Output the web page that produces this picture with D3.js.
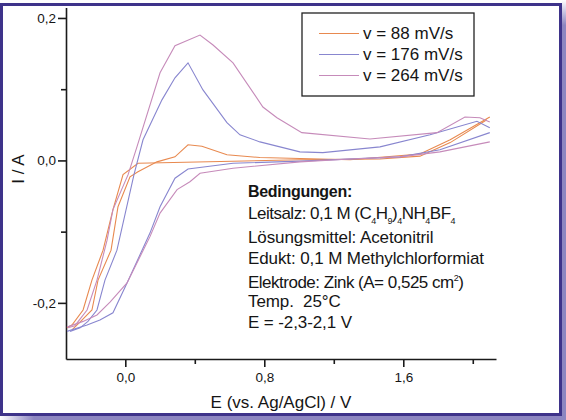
<!DOCTYPE html>
<html>

<head>
  <meta charset="utf8">
  <script src="https://d3js.org/d3.v7.min.js"></script>
  <style>
    body { margin: 0; background: #fff; }
    text {
      font-family: "Liberation Sans", Arial, sans-serif;
      fill: #151515;
    }
    .tick-label { font-size: 13.5px; }
    .axis-title { font-size: 17px; }
    .legend-text { font-size: 17px; }
    .note { font-size: 17px; letter-spacing: -0.1px; white-space: pre; }
    .tight { letter-spacing: -0.5px; }
    .note-head { font-size: 16px; letter-spacing: -0.3px; font-weight: bold; }
    .sub { font-size: 9px; }
  </style>
</head>

<body>
  <svg id="chart" width="566" height="420"></svg>
  <script>
    // scan rates shown in the legend
    var seriesNames = ['v = 88 mV/s', 'v = 176 mV/s', 'v = 264 mV/s'];
    var seriesColors = ['#e8894f', '#8886cf', '#c68bba'];

    // cyclic voltammograms, [E / V, I / A]
    var cv88Up = [[-0.307, -0.238], [-0.261, -0.227], [-0.192, -0.210], [-0.157, -0.168], [-0.082, -0.126],
      [-0.042, -0.065], [0.027, -0.023], [0.073, -0.016], [0.182, -0.002], [0.286, 0.005], [0.361, 0.022],
      [0.441, 0.020], [0.585, 0.008], [0.775, 0.004], [1.294, 0.001], [1.696, 0.009], [1.87, 0.029], [2.098, 0.061]];
    var cv88Down = [[2.081, 0.057], [1.87, 0.025], [1.696, 0.006], [1.466, 0.002], [1.005, 0.001], [0.073, -0.004],
      [-0.013, -0.020], [-0.071, -0.069], [-0.128, -0.126], [-0.192, -0.168], [-0.243, -0.210], [-0.307, -0.231],
      [-0.336, -0.235]];

    var cv176Up = [[-0.318, -0.240], [-0.26, -0.235], [-0.215, -0.226], [-0.163, -0.210], [-0.117, -0.168],
      [-0.048, -0.126], [0.050, -0.020], [0.102, 0.029], [0.211, 0.085], [0.286, 0.116], [0.361, 0.137],
      [0.447, 0.099], [0.585, 0.053], [0.660, 0.036], [0.775, 0.026], [1.005, 0.012], [1.137, 0.011],
      [1.466, 0.019], [1.754, 0.036], [2.024, 0.055], [2.098, 0.046]];
    var cv176Down = [[2.098, 0.039], [1.811, 0.015], [1.581, 0.005], [1.005, -0.001], [0.620, -0.004],
      [0.361, -0.012], [0.286, -0.025], [0.200, -0.065], [0.142, -0.102], [0.010, -0.172], [-0.071, -0.214],
      [-0.146, -0.224], [-0.220, -0.231], [-0.336, -0.240]];

    var cv264Up = [[-0.330, -0.235], [-0.290, -0.232], [-0.220, -0.210], [-0.163, -0.168], [-0.105, -0.112],
      [-0.071, -0.069], [0.016, -0.020], [0.067, 0.019], [0.200, 0.123], [0.286, 0.161], [0.430, 0.176],
      [0.505, 0.162], [0.620, 0.137], [0.792, 0.075], [0.873, 0.060], [1.016, 0.039], [1.408, 0.030],
      [1.794, 0.039], [1.955, 0.061], [2.041, 0.060], [2.098, 0.054]];
    var cv264Down = [[2.098, 0.026], [1.811, 0.012], [1.581, 0.005], [1.294, 0.002], [1.005, -0.002],
      [0.620, -0.011], [0.430, -0.018], [0.372, -0.030], [0.298, -0.041], [0.200, -0.074], [0.142, -0.107],
      [0.010, -0.172], [-0.088, -0.199], [-0.163, -0.217], [-0.243, -0.226], [-0.336, -0.234]];

    var xMajor = [0.0, 0.8, 1.6];
    var xMinor = [0.4, 1.2, 2.0];
    var yMajor = [-0.2, 0.0, 0.2];
    var yMinor = [-0.1, 0.1];

    var chart = d3.select('#chart');

    // frame with a soft shadow
    var defs = chart.append('defs');
    var gh = defs.append('linearGradient').attr('id', 'shadowH');
    gh.append('stop').attr('offset', '0').attr('stop-color', '#8d86c1').attr('stop-opacity', 0);
    gh.append('stop').attr('offset', '0.06').attr('stop-color', '#8d86c1').attr('stop-opacity', 1);
    var gv = defs.append('linearGradient').attr('id', 'shadowV').attr('x2', 0).attr('y2', 1);
    gv.append('stop').attr('offset', '0').attr('stop-color', '#8d86c1').attr('stop-opacity', 0);
    gv.append('stop').attr('offset', '0.06').attr('stop-color', '#8d86c1').attr('stop-opacity', 1);

    chart.append('rect').attr('x', 0).attr('y', 416).attr('width', 566).attr('height', 4).attr('fill', 'url(#shadowH)');
    chart.append('rect').attr('x', 562).attr('y', 0).attr('width', 4).attr('height', 420).attr('fill', 'url(#shadowV)');
    chart.append('rect')
      .attr('x', 1.5).attr('y', 4.5).attr('width', 559).attr('height', 410)
      .attr('fill', '#fff').attr('stroke', '#3e338a').attr('stroke-width', 3);

    var x = d3.scaleLinear().domain([-0.3413, 2.1337]).range([66, 496]);
    var y = d3.scaleLinear().domain([-0.2788, 0.2147]).range([359, 7.5]);

    var fmt = (d) => d3.format('.1f')(d).replace('.', ',').replace('−', '-');

    // axes (left and bottom only)
    var xAxis = chart.append('g').attr('transform', 'translate(0,359)')
      .call(d3.axisBottom(x).tickValues(xMajor).tickSize(8).tickSizeOuter(0).tickFormat(fmt));
    chart.append('g').attr('transform', 'translate(0,359)')
      .call(d3.axisBottom(x).tickValues(xMinor).tickSize(5).tickSizeOuter(0).tickFormat(''))
      .call((g) => g.select('.domain').remove())
      .call((g) => g.selectAll('.tick text').remove());
    var yAxis = chart.append('g').attr('transform', 'translate(66,0)')
      .call(d3.axisLeft(y).tickValues(yMajor).tickSize(8).tickSizeOuter(0).tickFormat(fmt));
    chart.append('g').attr('transform', 'translate(66,0)')
      .call(d3.axisLeft(y).tickValues(yMinor).tickSize(5).tickSizeOuter(0).tickFormat(''))
      .call((g) => g.select('.domain').remove())
      .call((g) => g.selectAll('.tick text').remove());

    chart.selectAll('.domain').attr('stroke', '#1a1a1a').attr('stroke-width', 1.6);
    chart.selectAll('.tick line').attr('stroke', '#1a1a1a').attr('stroke-width', 1.6);
    chart.selectAll('.tick text').attr('class', 'tick-label').attr('font-family', null).attr('font-size', null);
    xAxis.selectAll('.tick text').attr('y', 13);
    yAxis.selectAll('.tick text').attr('x', -10);

    chart.append('text').attr('class', 'axis-title')
      .attr('x', 281).attr('y', 408).attr('text-anchor', 'middle')
      .text('E (vs. Ag/AgCl) / V');
    chart.append('text').attr('class', 'axis-title')
      .attr('transform', 'translate(24,169) rotate(-90)').attr('text-anchor', 'middle')
      .text('I / A');

    // curves
    var line = d3.line().x((d) => x(d[0])).y((d) => y(d[1]));
    var curves = [
      { s: 0, pts: cv88Up }, { s: 0, pts: cv88Down },
      { s: 1, pts: cv176Up }, { s: 1, pts: cv176Down },
      { s: 2, pts: cv264Up }, { s: 2, pts: cv264Down },
    ];
    chart.append('g').selectAll('path')
      .data(curves)
      .enter()
      .append('path')
      .attr('d', (d) => line(d.pts))
      .attr('fill', 'none')
      .attr('stroke', (d) => seriesColors[d.s])
      .attr('stroke-width', 1.1);

    // legend
    var legend = chart.append('g');
    legend.append('rect')
      .attr('x', 302).attr('y', 13).attr('width', 172).attr('height', 83)
      .attr('fill', '#fff').attr('stroke', '#222').attr('stroke-width', 1.3);
    var item = legend.selectAll('.item')
      .data(seriesNames)
      .enter()
      .append('g')
      .attr('class', 'item')
      .attr('transform', (d, i) => 'translate(0,' + (33 + i * 21) + ')');
    item.append('line')
      .attr('x1', 319).attr('x2', 359).attr('y1', 0.5).attr('y2', 0.5)
      .attr('stroke', (d, i) => seriesColors[i]).attr('stroke-width', 1);
    item.append('text').attr('class', 'legend-text')
      .attr('x', 363).attr('y', 6)
      .text((d) => d);

    // conditions block
    var notes = chart.append('g');
    var nx = 248;
    notes.append('text').attr('class', 'note-head').attr('x', nx).attr('y', 197).text('Bedingungen:');

    // Leitsalz line with subscripts: [text, isSubscript]
    var salt = notes.append('text').attr('class', 'note tight').attr('x', nx).attr('y', 219);
    var saltParts = [['Leitsalz: 0,1 M (C', 0], ['4', 1], ['H', 0], ['9', 1], [')', 0], ['4', 1],
      ['NH', 0], ['4', 1], ['BF', 0], ['4', 1]];
    var shifted = false;
    saltParts.forEach((p) => {
      var dy = 0;
      if (p[1] && !shifted) dy = 5;
      if (!p[1] && shifted) dy = -5;
      shifted = !!p[1];
      salt.append('tspan')
        .attr('class', p[1] ? 'sub' : null)
        .attr('dy', dy)
        .text(p[0]);
    });

    notes.append('text').attr('class', 'note').attr('x', nx).attr('y', 243).text('Lösungsmittel: Acetonitril');
    notes.append('text').attr('class', 'note').attr('x', nx).attr('y', 264).text('Edukt: 0,1 M Methylchlorformiat');
    var el = notes.append('text').attr('class', 'note tight').attr('x', nx).attr('y', 288);
    el.append('tspan').text('Elektrode: Zink (A= 0,525 cm');
    el.append('tspan').attr('class', 'sub').attr('dy', -7).text('2');
    el.append('tspan').attr('dy', 7).text(')');
    notes.append('text').attr('class', 'note').attr('x', nx).attr('y', 307).text('Temp.  25°C');
    notes.append('text').attr('class', 'note').attr('x', nx).attr('y', 328).text('E = -2,3-2,1 V');
  </script>
</body>

</html>
